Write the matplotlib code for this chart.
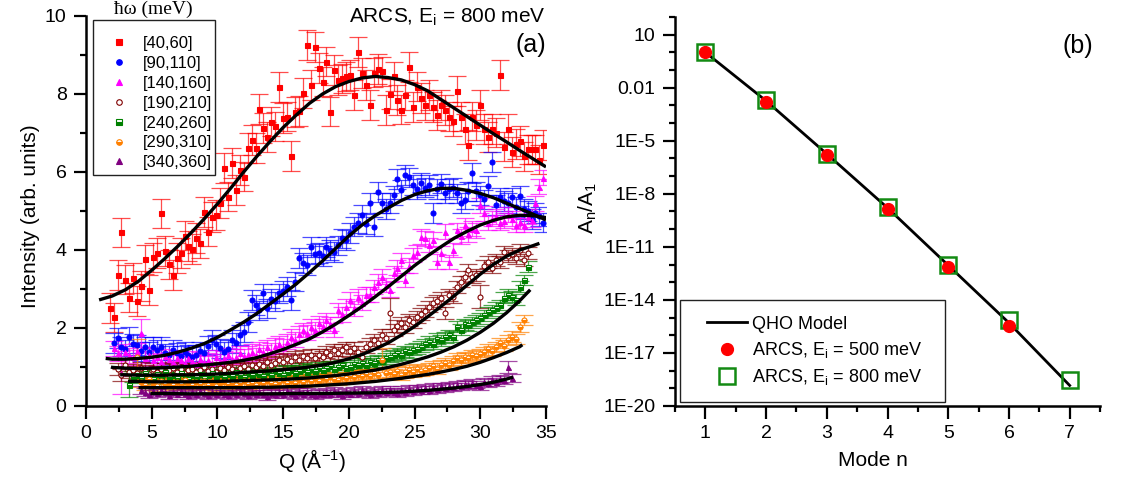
import matplotlib
matplotlib.use("Agg")
import matplotlib.pyplot as plt
from matplotlib.lines import Line2D
from matplotlib.patches import Rectangle
from matplotlib.colors import to_rgba
from matplotlib.ticker import MultipleLocator, FixedLocator, FixedFormatter

plt.rcParams['font.family'] = ['Liberation Sans', 'DejaVu Sans']
plt.rcParams['mathtext.fontset'] = 'custom'
plt.rcParams['mathtext.rm'] = 'Liberation Sans'
plt.rcParams['mathtext.it'] = 'Liberation Sans:italic'

# ---- panel (a): Q grid of the binned data (1/Angstrom) ----
Q = [1.8, 2.1, 2.4, 2.7, 3.0, 3.3, 3.6, 3.9, 4.2, 4.5,
     4.8, 5.1, 5.4, 5.7, 6.0, 6.3, 6.6, 6.9, 7.2, 7.5,
     7.8, 8.1, 8.4, 8.7, 9.0, 9.3, 9.6, 9.9, 10.2, 10.5,
     10.8, 11.1, 11.4, 11.7, 12.0, 12.3, 12.6, 12.9, 13.2, 13.5,
     13.8, 14.1, 14.4, 14.7, 15.0, 15.3, 15.6, 15.9, 16.2, 16.5,
     16.8, 17.1, 17.4, 17.7, 18.0, 18.3, 18.6, 18.9, 19.2, 19.5,
     19.8, 20.1, 20.4, 20.7, 21.0, 21.3, 21.6, 21.9, 22.2, 22.5,
     22.8, 23.1, 23.4, 23.7, 24.0, 24.3, 24.6, 24.9, 25.2, 25.5,
     25.8, 26.1, 26.4, 26.7, 27.0, 27.3, 27.6, 27.9, 28.2, 28.5,
     28.8, 29.1, 29.4, 29.7, 30.0, 30.3, 30.6, 30.9, 31.2, 31.5,
     31.8, 32.1, 32.4, 32.7, 33.0, 33.3, 33.6, 33.9, 34.2, 34.5,
     34.8]

# [40,60] meV, starts at Q[0]
red_I = [2.52, 2.27, 3.36, 4.45, 3.24, 2.78, 3.28, 2.70, 3.07, 3.76,
         2.98, 3.81, 3.92, 4.94, 3.97, 3.63, 3.36, 3.80, 3.93, 4.37,
         4.10, 4.02, 4.30, 4.17, 4.98, 4.47, 4.85, 4.90, 5.20, 6.10,
         5.37, 6.23, 5.54, 6.05, 5.88, 6.61, 6.82, 6.61, 7.62, 7.13,
         6.90, 7.29, 7.17, 8.18, 7.38, 7.42, 6.41, 7.54, 7.57, 8.03,
         9.26, 8.23, 9.20, 8.67, 8.32, 8.83, 7.55, 8.62, 8.36, 8.40,
         8.45, 8.49, 7.97, 9.08, 8.53, 8.23, 7.72, 8.55, 8.64, 8.58,
         7.59, 8.00, 8.45, 7.85, 7.60, 7.97, 8.70, 7.67, 8.19, 7.90,
         7.72, 7.98, 7.67, 7.46, 7.72, 7.59, 7.42, 7.30, 8.08, 7.42,
         7.10, 6.69, 7.42, 7.20, 7.72, 7.10, 6.90, 7.10, 7.01, 8.49,
         6.65, 7.10, 6.52, 6.72, 6.80, 6.40, 6.58, 6.58, 6.58, 6.32,
         6.70]
red_start = 0

# [90,110] meV
blue_I = [1.62, 1.74, 1.52, 1.45, 1.78, 1.60, 1.57, 1.40, 1.52,
          1.38, 1.52, 1.44, 1.52, 1.35, 1.30, 1.44, 1.36, 1.28, 1.39,
          1.32, 1.25, 1.31, 1.40, 1.35, 1.55, 1.69, 1.58, 1.48, 1.39,
          1.45, 1.70, 1.61, 1.82, 1.90, 2.15, 2.72, 2.59, 2.45, 2.89,
          2.50, 2.75, 2.68, 2.89, 2.95, 3.06, 2.72, 3.19, 3.79, 3.66,
          3.62, 4.08, 3.90, 3.92, 3.85, 4.08, 4.00, 3.95, 4.12, 4.30,
          4.25, 4.43, 4.60, 4.69, 4.90, 4.66, 5.20, 4.60, 5.49, 5.20,
          5.05, 5.20, 5.40, 5.82, 5.55, 5.92, 5.86, 5.67, 5.56, 5.73,
          5.60, 5.67, 4.95, 5.56, 5.70, 5.45, 5.56, 5.60, 5.45, 5.20,
          5.29, 5.50, 5.97, 5.50, 5.40, 5.30, 5.65, 6.26, 5.15, 5.35,
          5.25, 5.20, 5.35, 5.10, 5.38, 5.05, 5.00, 4.80, 4.95, 4.86,
          4.70]
blue_start = 1

# [140,160] meV
magenta_I = [1.48, 1.35, 0.85, 1.39, 1.30, 1.25, 1.42, 1.87, 1.22,
             1.30, 1.18, 1.25, 1.15, 1.28, 1.20, 1.12, 1.24, 1.18, 1.10,
             1.22, 1.15, 1.08, 1.20, 1.12, 1.18, 1.10, 1.25, 1.15, 1.22,
             1.30, 1.20, 1.26, 1.35, 1.28, 1.34, 1.39, 1.30, 1.45, 1.38,
             1.50, 1.42, 1.55, 1.60, 1.52, 1.65, 1.78, 1.70, 1.85, 1.95,
             1.88, 2.03, 1.96, 2.12, 2.05, 2.20, 2.10, 1.95, 2.46, 2.35,
             2.55, 2.72, 2.50, 2.80, 2.65, 2.85, 2.85, 3.05, 3.19, 3.32,
             3.10, 2.98, 3.40, 3.55, 3.74, 3.23, 3.60, 3.87, 3.95, 4.34,
             4.30, 4.13, 4.26, 3.70, 3.92, 4.47, 3.69, 4.00, 4.51, 4.35,
             4.64, 4.40, 4.55, 4.50, 5.15, 4.94, 4.69, 4.80, 4.86, 4.70,
             4.75, 4.90, 4.80, 4.64, 4.72, 4.64, 4.85, 4.77, 5.20, 5.62,
             5.85]
magenta_start = 1

# [190,210] meV
brown_I = [0.95, 0.80, 1.05, 0.88, 0.92, 0.85, 0.98, 0.90,
           0.82, 0.94, 0.88, 0.96, 0.86, 0.92, 0.98, 0.88, 0.95, 0.84,
           0.92, 0.96, 0.87, 0.93, 0.99, 0.90, 0.95, 0.88, 0.97, 0.92,
           1.00, 0.94, 0.90, 0.98, 1.02, 0.95, 1.05, 0.99, 1.08, 1.02,
           1.12, 1.05, 1.10, 1.18, 1.12, 1.20, 1.15, 1.25, 1.18, 1.28,
           1.22, 1.32, 1.22, 1.30, 1.26, 1.38, 1.30, 1.44, 1.36, 1.44,
           1.50, 1.40, 1.48, 1.38, 1.26, 1.52, 1.60, 1.69, 1.62, 1.82,
           1.75, 2.38, 1.95, 2.05, 2.12, 2.02, 2.20, 2.15, 2.29, 2.35,
           2.43, 2.55, 2.64, 2.70, 2.77, 2.38, 2.85, 2.80, 3.05, 3.19,
           3.32, 3.49, 3.30, 3.36, 2.80, 3.60, 3.70, 3.55, 3.75, 3.70,
           3.96, 3.85, 3.90, 3.80, 4.00, 3.75, 3.92]
brown_start = 2

# [240,260] meV
green_I = [0.54, 0.75, 0.80, 0.72, 0.85,
           0.78, 0.70, 0.82, 0.76, 0.88, 0.74, 0.80, 0.72, 0.84, 0.78,
           0.70, 0.80, 0.75, 0.82, 0.73, 0.79, 0.85, 0.76, 0.81, 0.74,
           0.83, 0.78, 0.86, 0.80, 0.75, 0.84, 0.79, 0.88, 0.82, 0.78,
           0.86, 0.80, 0.90, 0.84, 0.80, 0.88, 0.92, 0.85, 0.90, 0.95,
           0.88, 0.94, 0.90, 0.98, 0.93, 0.97, 1.02, 0.95, 1.00, 1.05,
           0.98, 1.00, 1.08, 1.04, 1.10, 1.06, 1.14, 1.10, 1.18, 1.15,
           1.22, 1.26, 1.30, 1.35, 1.32, 1.40, 1.38, 1.44, 1.47, 1.52,
           1.58, 1.65, 1.60, 1.72, 1.69, 1.76, 1.82, 1.78, 2.03, 1.95,
           2.10, 2.07, 2.15, 2.20, 2.25, 2.33, 2.40, 2.46, 2.52, 2.59,
           2.77, 2.85, 2.80, 2.72, 3.06, 3.23, 3.57]
green_start = 5

# [290,310] meV
orange_I = [1.26, 0.62, 0.55,
            0.68, 0.58, 0.52, 0.64, 0.57, 0.60, 0.53, 0.62, 0.56, 0.66,
            0.58, 0.54, 0.61, 0.57, 0.63, 0.55, 0.60, 0.52, 0.58, 0.62,
            0.56, 0.60, 0.54, 0.59, 0.63, 0.57, 0.60, 0.55, 0.62, 0.58,
            0.64, 0.60, 0.56, 0.62, 0.66, 0.60, 0.64, 0.58, 0.66, 0.62,
            0.68, 0.64, 0.70, 0.65, 0.72, 0.68, 0.74, 0.70, 0.66, 0.75,
            0.72, 0.78, 0.74, 0.80, 0.76, 0.82, 0.78, 0.85, 0.80, 1.18,
            0.84, 0.88, 0.82, 0.90, 0.80, 0.86, 0.92, 0.88, 0.95, 0.90,
            0.92, 0.98, 1.02, 0.96, 1.05, 1.10, 1.06, 1.15, 1.22, 1.18,
            1.26, 1.22, 1.30, 1.28, 1.34, 1.39, 1.45, 1.42, 1.52, 1.61,
            1.55, 1.70, 1.78, 1.72, 2.03, 2.20]
orange_start = 7

# [340,360] meV
purple_I = [0.42, 0.36,
            0.30, 0.38, 0.33, 0.40, 0.35, 0.29, 0.37, 0.32, 0.39, 0.34,
            0.28, 0.36, 0.31, 0.38, 0.33, 0.27, 0.35, 0.30, 0.37, 0.32,
            0.29, 0.36, 0.31, 0.38, 0.33, 0.28, 0.35, 0.31, 0.37, 0.32,
            0.26, 0.34, 0.30, 0.36, 0.31, 0.38, 0.33, 0.29, 0.35, 0.31,
            0.37, 0.32, 0.27, 0.34, 0.30, 0.36, 0.32, 0.38, 0.33, 0.29,
            0.36, 0.32, 0.38, 0.34, 0.40, 0.35, 0.31, 0.38, 0.34, 0.40,
            0.36, 0.42, 0.37, 0.33, 0.40, 0.36, 0.43, 0.38, 0.45, 0.40,
            0.47, 0.42, 0.48, 0.44, 0.50, 0.46, 0.52, 0.48, 0.55, 0.50,
            0.57, 0.53, 0.60, 0.55, 0.50, 0.62, 0.58, 0.67, 0.62, 0.70,
            0.66, 1.00, 0.72]
purple_start = 8

# typical error per series, with the few larger ones (keyed by grid index)
red_err, red_big = 0.38, {}
blue_err, blue_big = 0.25, {}
magenta_err, magenta_big = 0.19, {3: 0.55, 8: 0.35}
brown_err, brown_big = 0.15, {71: 0.4, 94: 0.3}
green_err, green_big = 0.14, {5: 0.3}
orange_err, orange_big = 0.13, {7: 0.45, 69: 0.3}
purple_err, purple_big = 0.1, {101: 0.15}

# QHO fit curves
red_fit_q = [1, 2, 3, 4, 5, 6, 7, 8, 9, 10, 11, 12, 13, 14, 15, 16, 17, 18,
             19, 20, 21, 22, 23, 24, 25, 26, 27, 28, 29, 30, 31, 32, 33, 34, 35]
red_fit = [2.72, 2.82, 2.98, 3.2, 3.48, 3.78, 4.1, 4.44, 4.8, 5.18, 5.58, 6.0,
           6.4, 6.78, 7.14, 7.46, 7.76, 8.0, 8.19, 8.32, 8.41, 8.45, 8.42, 8.36,
           8.24, 8.08, 7.86, 7.64, 7.42, 7.2, 6.98, 6.77, 6.55, 6.34, 6.13]
blue_fit_q = [1.5, 2, 3, 4, 5, 6, 7, 8, 9, 10, 11, 12, 13, 14, 15, 16, 17, 18,
              19, 20, 21, 22, 23, 24, 25, 26, 27, 28, 29, 30, 31, 32, 33, 34, 35]
blue_fit = [1.22, 1.2, 1.2, 1.22, 1.25, 1.3, 1.38, 1.48, 1.6, 1.76, 1.95, 2.15,
            2.37, 2.62, 2.87, 3.13, 3.42, 3.72, 4.04, 4.36, 4.64, 4.88, 5.08,
            5.27, 5.42, 5.52, 5.58, 5.58, 5.53, 5.45, 5.34, 5.2, 5.06, 4.92, 4.77]
magenta_fit_q = [1.9, 2, 3, 4, 5, 6, 7, 8, 9, 10, 11, 12, 13, 14, 15, 16, 17, 18,
                 19, 20, 21, 22, 23, 24, 25, 26, 27, 28, 29, 30, 31, 32, 33, 34, 35]
magenta_fit = [1.0, 0.99, 0.97, 0.96, 0.97, 0.98, 1.0, 1.02, 1.05, 1.08, 1.12,
               1.17, 1.24, 1.34, 1.45, 1.58, 1.72, 1.9, 2.1, 2.32, 2.55, 2.8,
               3.06, 3.33, 3.6, 3.85, 4.08, 4.3, 4.48, 4.64, 4.76, 4.85, 4.89,
               4.88, 4.83]
brown_fit_q = [2.6, 3, 4, 5, 6, 7, 8, 9, 10, 11, 12, 13, 14, 15, 16, 17, 18, 19,
               20, 21, 22, 23, 24, 25, 26, 27, 28, 29, 30, 31, 32, 33, 34, 34.5]
brown_fit = [0.8, 0.8, 0.79, 0.79, 0.79, 0.8, 0.8, 0.81, 0.82, 0.84, 0.86, 0.88,
             0.9, 0.93, 0.96, 1.0, 1.05, 1.12, 1.21, 1.32, 1.46, 1.62, 1.82,
             2.04, 2.29, 2.55, 2.82, 3.1, 3.38, 3.63, 3.84, 4.0, 4.11, 4.17]
green_fit_q = [3.2, 4, 5, 6, 7, 8, 9, 10, 11, 12, 13, 14, 15, 16, 17, 18, 19, 20,
               21, 22, 23, 24, 25, 26, 27, 28, 29, 30, 31, 32, 33, 33.8]
green_fit = [0.63, 0.63, 0.62, 0.62, 0.62, 0.62, 0.63, 0.63, 0.64, 0.65, 0.66,
             0.67, 0.68, 0.7, 0.72, 0.75, 0.78, 0.82, 0.87, 0.92, 0.99, 1.07,
             1.16, 1.26, 1.38, 1.52, 1.69, 1.89, 2.12, 2.39, 2.7, 2.98]
orange_fit_q = [4.0, 5, 6, 7, 8, 9, 10, 11, 12, 13, 14, 15, 16, 17, 18, 19, 20,
                21, 22, 23, 24, 25, 26, 27, 28, 29, 30, 31, 32, 33, 33.2]
orange_fit = [0.47, 0.47, 0.47, 0.47, 0.47, 0.47, 0.47, 0.47, 0.47, 0.48, 0.48,
              0.49, 0.5, 0.51, 0.53, 0.55, 0.57, 0.6, 0.63, 0.67, 0.71, 0.76,
              0.81, 0.87, 0.94, 1.02, 1.12, 1.24, 1.37, 1.52, 1.57]
purple_fit_q = [4.9, 6, 8, 10, 12, 14, 16, 18, 20, 22, 24, 25, 26, 27, 28, 29,
                30, 31, 32, 32.5]
purple_fit = [0.32, 0.32, 0.31, 0.31, 0.31, 0.31, 0.32, 0.32, 0.33, 0.34, 0.36,
              0.38, 0.4, 0.43, 0.46, 0.5, 0.55, 0.61, 0.69, 0.74]

# ---- panel (b): mode amplitude ratios ----
modes = [1, 2, 3, 4, 5, 6, 7]
qho_model = [1.0, 1.8e-3, 1.8e-6, 1.6e-9, 9e-13, 5e-16, 1.45e-19]
modes_500 = [1, 2, 3, 4, 5, 6]
ratio_500 = [1.0, 1.6e-3, 1.5e-6, 1.3e-9, 7.5e-13, 3.4e-16]
ratio_800 = [1.0, 1.9e-3, 1.9e-6, 1.8e-9, 1.0e-12, 7.6e-16, 3.1e-19]

series = [
    (red_start, red_I, red_err, red_big, '#ff0000', 's', 'full', '[40,60]'),
    (blue_start, blue_I, blue_err, blue_big, '#0000ff', 'o', 'full', '[90,110]'),
    (magenta_start, magenta_I, magenta_err, magenta_big, '#ff00ff', '^', 'full', '[140,160]'),
    (brown_start, brown_I, brown_err, brown_big, '#800000', 'o', 'none', '[190,210]'),
    (green_start, green_I, green_err, green_big, '#008000', 's', 'bottom', '[240,260]'),
    (orange_start, orange_I, orange_err, orange_big, '#ff8000', 'o', 'bottom', '[290,310]'),
    (purple_start, purple_I, purple_err, purple_big, '#800080', '^', 'full', '[340,360]'),
]
fits = [(red_fit_q, red_fit), (blue_fit_q, blue_fit), (magenta_fit_q, magenta_fit),
        (brown_fit_q, brown_fit), (green_fit_q, green_fit),
        (orange_fit_q, orange_fit), (purple_fit_q, purple_fit)]


def style_axes(ax):
    for side in ['top', 'right']:
        ax.spines[side].set_visible(False)
    for side in ['left', 'bottom']:
        ax.spines[side].set_linewidth(1.8)
    ax.tick_params(which='major', direction='out', length=9, width=1.6,
                   labelsize=14, pad=5)
    ax.tick_params(which='minor', direction='out', length=4.5, width=1.6)


fig = plt.figure(figsize=(11.43, 4.8), dpi=100)
ax1 = fig.add_axes([0.0752, 0.1542, 0.4025, 0.8125])
ax2 = fig.add_axes([0.5906, 0.1542, 0.3718, 0.8104])

handles = []
for start, vals, err, big, color, marker, fill, label in series:
    q = Q[start:start + len(vals)]
    e = [big.get(start + k, err) for k in range(len(vals))]
    ax1.errorbar(q, vals, yerr=e, fmt='none', ecolor=to_rgba(color, 0.7),
                 elinewidth=0.9, capsize=6.5, capthick=0.9, zorder=2)
    mfc = 'white' if fill == 'none' else color
    ax1.plot(q, vals, ls='none', marker=marker, ms=3.6, mfc=mfc, mec=color,
             mew=0.8, fillstyle=fill if fill != 'none' else 'full',
             markerfacecoloralt='white', zorder=3)
    handles.append(Line2D([], [], ls='none', marker=marker, ms=4, mfc=mfc,
                          mec=color, mew=0.8,
                          fillstyle=fill if fill != 'none' else 'full',
                          markerfacecoloralt='white', label=label))

for fq, fv in fits:
    ax1.plot(fq, fv, color='black', lw=2.4, zorder=4, solid_capstyle='butt')

ax1.set_xlim(0, 35)
ax1.set_ylim(0, 10)
ax1.xaxis.set_major_locator(MultipleLocator(5))
ax1.xaxis.set_minor_locator(MultipleLocator(2.5))
ax1.yaxis.set_major_locator(MultipleLocator(2))
ax1.yaxis.set_minor_locator(MultipleLocator(1))
style_axes(ax1)
ax1.set_xlabel('Q (Å$^{-1}$)', fontsize=15)
ax1.set_ylabel('Intensity (arb. units)', fontsize=15)
ax1.xaxis.set_label_coords(0.491, -0.105)
ax1.yaxis.set_label_coords(-0.100, 0.487)

ax1.add_patch(Rectangle((0.0152, 0.5923), 0.2652, 0.3974, transform=ax1.transAxes,
                        fill=False, lw=1.0, ec='#222222', zorder=5, clip_on=False))
leg1 = ax1.legend(handles=handles, loc='upper left', bbox_to_anchor=(0.054, 0.948),
                  frameon=False, fontsize=12, borderpad=0, borderaxespad=0,
                  handlelength=1.0, handletextpad=0.9, labelspacing=0.29)
ax1.text(0.1457, 1.016, 'ħω (meV)', transform=ax1.transAxes, ha='center',
         va='center', fontsize=14, family=['Liberation Serif', 'DejaVu Serif'])
ax1.text(1.0, 0.982, r'ARCS, E$_\mathrm{i}$ = 800 meV', transform=ax1.transAxes,
         ha='right', va='baseline', fontsize=15)
ax1.text(1.0, 0.925, '(a)', transform=ax1.transAxes, ha='right', va='center',
         fontsize=18)

# panel (b)
ax2.plot(modes, qho_model, color='black', lw=2.0, zorder=2, label='QHO Model')
ax2.plot(modes_500, ratio_500, ls='none', marker='o', ms=8.5, color='#ff0000',
         zorder=4, label='ARCS, E$_\\mathrm{i}$ = 500 meV')
ax2.plot(modes, ratio_800, ls='none', marker='s', ms=12, mfc='none',
         mec='#138a13', mew=1.8, zorder=3, label='ARCS, E$_\\mathrm{i}$ = 800 meV')
ax2.set_yscale('log')
ax2.set_xlim(0.5, 7.5)
ax2.set_ylim(1e-20, 1e2)
ax2.xaxis.set_major_locator(MultipleLocator(1))
ax2.xaxis.set_minor_locator(MultipleLocator(0.5))
major_exp = [1, -2, -5, -8, -11, -14, -17, -20]
ax2.yaxis.set_major_locator(FixedLocator([10.0 ** k for k in major_exp]))
ax2.yaxis.set_major_formatter(FixedFormatter(
    ['10', '0.01', '1E-5', '1E-8', '1E-11', '1E-14', '1E-17', '1E-20']))
ax2.yaxis.set_minor_locator(FixedLocator([10.0 ** k for k in range(-20, 3)]))
ax2.yaxis.set_minor_formatter(FixedFormatter([''] * 23))
style_axes(ax2)
ax2.set_xlabel('Mode n', fontsize=15)
ax2.set_ylabel('A$_\\mathrm{n}$/A$_\\mathrm{1}$', fontsize=15)
ax2.xaxis.set_label_coords(0.466, -0.115)
ax2.yaxis.set_label_coords(-0.178, 0.509)
ax2.text(0.983, 0.925, '(b)', transform=ax2.transAxes, ha='right', va='center',
         fontsize=18)

ax2.add_patch(Rectangle((0.0118, 0.0103), 0.6235, 0.2622, transform=ax2.transAxes,
                        fill=False, lw=1.0, ec='#222222', zorder=5))
ax2.legend(loc='upper left', bbox_to_anchor=(0.075, 0.232), frameon=False,
           fontsize=13, borderpad=0, borderaxespad=0, handlelength=2.2,
           handletextpad=0.3, labelspacing=0.4)

fig.savefig('out.png', dpi=100)
